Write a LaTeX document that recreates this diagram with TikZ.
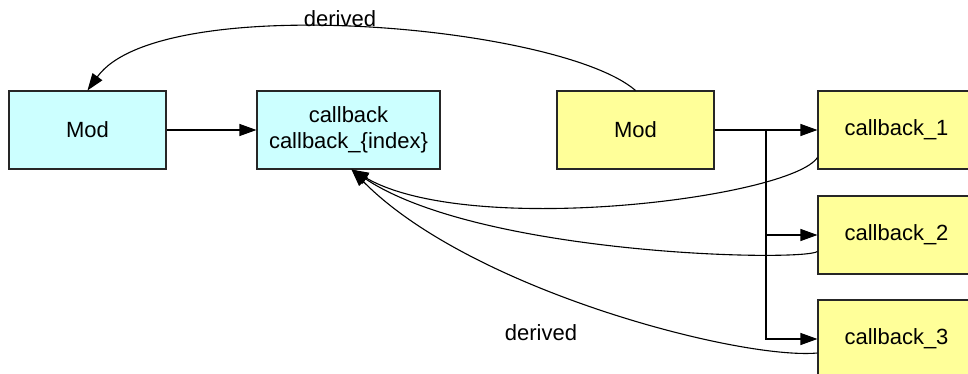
\documentclass[tikz,border=0pt]{standalone}
\usepackage{fontspec}
\setmainfont{Liberation Sans}
\usetikzlibrary{arrows.meta,calc}
\definecolor{cyanfill}{HTML}{CCFFFF}
\definecolor{yelfill}{HTML}{FFFF99}
\tikzset{
  box/.style={draw=black!85, line width=1.1pt, minimum width=157pt, minimum height=78pt, inner sep=0pt, align=center,
    font=\fontsize{22}{26}\selectfont},
  cbox/.style={box, fill=cyanfill},
  ybox/.style={box, fill=yelfill},
  arr/.style={draw=black, line width=1.1pt, -{Triangle[length=17pt,width=12pt]}},
  lbl/.style={font=\fontsize{22}{26}\selectfont, inner sep=0pt},
}
\begin{document}
\begin{tikzpicture}[x=1pt,y=-1pt]
\useasboundingbox (0,0) rectangle (968,374);
\clip (0,0) rectangle (968,374);
\node[cbox] (mod1) at (87.5,130) {Mod};
\node[cbox, minimum width=183pt] (cb) at (348.5,130) {callback\\callback\_\{index\}};
\node[ybox] (mod2) at (635.5,130) {Mod};
\node[ybox] (cb1) at (896.5,130) {callback\_1};
\node[ybox] (cb2) at (896.5,235) {callback\_2};
\node[ybox] (cb3) at (896.5,339) {callback\_3};
\coordinate (j) at (766,130);
% Mod -> callback
\draw[arr] (mod1.east) -- (cb.west);
% Mod2 -> callbacks
\draw[arr] (mod2.east) -- (cb1.west);
\draw[arr] (mod2.east) -- (j) |- (cb2.west);
\draw[arr] (mod2.east) -- (j) |- (cb3.west);
% derived (top)
\draw[arr] (mod2.north) .. controls (560,25) and (160,-10) .. (mod1.north);
\node[lbl] (d1) at (340,19) {derived};
% callbacks -> callback
\draw[arr] ($(cb1.south west)+(0,-12)$) .. controls (790,198) and (470,238) .. ($(cb.south)+(3,0)$);
\draw[arr] ($(cb2.south west)+(0,-23)$) .. controls (800,262) and (480,255) .. ($(cb.south)+(3,0)$);
\draw[arr] ($(cb3.west)+(0,14)$) .. controls (740,360) and (470,290) .. ($(cb.south)+(3,0)$);
\node[lbl] (d2) at (541,333) {derived};
\end{tikzpicture}
\end{document}
